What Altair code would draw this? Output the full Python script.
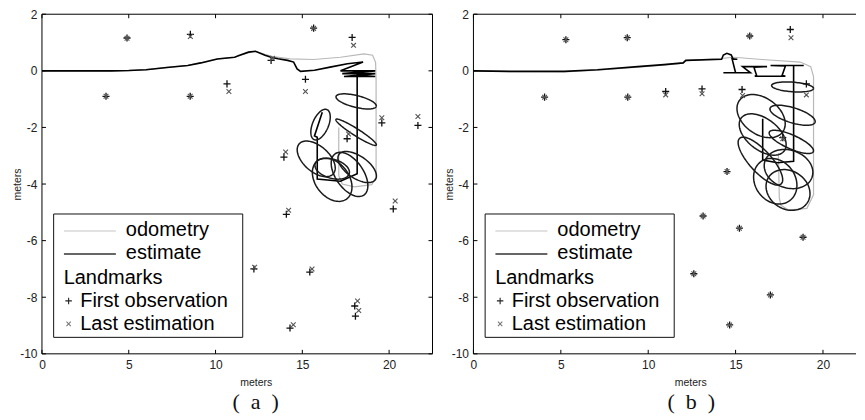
import altair as alt
import numpy as np
import pandas as pd

SANS = "Liberation Sans"
SERIF = "Liberation Serif"

x_ticks = [0, 5, 10, 15, 20]
y_ticks = [-10, -8, -6, -4, -2, 0, 2]
panel_labels = ["(\u2002a\u2002)", "(\u2002b\u2002)"]
legend_labels = ["odometry", "estimate", "Landmarks", "First observation", "Last estimation"]
axis_title = "meters"

# ---------------- panel (a) ----------------
est_a_x = [0, 2.0, 4.0, 5.0, 6.0, 7.2, 8.4, 9.15, 10.1, 11.1, 11.35, 11.9, 12.3, 12.85, 13.2, 13.6,
           14.15, 14.5, 14.7, 14.9, 15.7, 16.6, 17.6, 18.5, 17.2, 19.2, 17.3, 19.2, 17.4, 19.2,
           18.16, 18.16, 17.2, 15.86, 15.86, 15.7, 16.15]
est_a_y = [0, 0.0, 0.0, 0.01, 0.04, 0.12, 0.19, 0.28, 0.42, 0.48, 0.54, 0.66, 0.69, 0.55, 0.48, 0.43,
           0.37, 0.31, 0.07, -0.02, 0.02, 0.13, 0.25, 0.31, 0.0, 0.0, -0.1, -0.1, -0.2, -0.2,
           -0.15, -3.64, -3.9, -3.82, -2.35, -2.3, -1.46]
odo_a_x = [0, 2, 4, 5, 6, 7.2, 8.4, 9.15, 10.1, 11.1, 11.9, 12.3, 12.85, 13.3, 14.3, 15.65, 17.2,
           18.55, 19.05, 19.22, 19.25, 19.25, 19.0, 18.0, 17.3, 17.1, 17.1]
odo_a_y = [0, 0, 0, 0.01, 0.04, 0.12, 0.19, 0.28, 0.42, 0.48, 0.64, 0.69, 0.58, 0.5, 0.42, 0.40, 0.48,
           0.60, 0.55, 0.3, -0.3, -3.75, -4.02, -4.1, -4.0, -3.7, -2.0]
first_a_x = [4.9, 8.55, 15.65, 17.87, 3.69, 8.54, 10.66, 15.18, 19.58, 21.66, 17.58, 13.94, 20.24,
             14.08, 12.21, 15.43, 18.02, 18.06, 14.29, 13.2]
first_a_y = [1.16, 1.29, 1.51, 1.18, -0.9, -0.9, -0.46, -0.30, -1.84, -1.93, -2.4, -3.05, -4.88,
             -5.07, -7.0, -7.11, -8.31, -8.67, -9.09, 0.37]
last_a_x = [4.9, 8.55, 15.65, 17.95, 3.69, 8.54, 10.77, 15.18, 19.58, 21.66, 17.66, 14.04, 20.35,
            14.21, 12.25, 15.56, 18.18, 18.25, 14.48, 13.28]
last_a_y = [1.15, 1.21, 1.5, 0.9, -0.9, -0.9, -0.73, -0.73, -1.66, -1.61, -2.23, -2.87, -4.6,
            -4.93, -6.94, -7.0, -8.13, -8.47, -8.97, 0.44]
# ellipses: centre, semi-axis vector u, conjugate semi-axis vector v (metres)
ell_a_cx = [18.1, 16.05, 18.1, 15.8, 17.72, 18.16, 16.72, 16.72]
ell_a_cy = [-1.08, -1.9, -2.17, -3.11, -3.66, -3.4, -3.85, -3.46]
ell_a_ux = [1.16, 0.37, 1.15, 0.98, 0.8, 0.98, 0.75, 0.98]
ell_a_uy = [-0.165, 0.53, -0.41, -0.53, -0.74, -0.49, -0.71, -0.18]
ell_a_vx = [0.03, 0.42, -0.2, 0.49, 0.69, 0.52, 0.86, 0.17]
ell_a_vy = [0.21, -0.11, 0.22, 0.34, 0.25, 0.25, 0.28, 0.32]

# ---------------- panel (b) ----------------
est_b_x = [0, 2.1, 5.2, 7.1, 9.4, 10.9, 12.0, 12.15, 14.2, 14.3, 14.5, 14.75, 14.85, 15.1, 14.8, 15.0,
           14.3, 15.85, 15.4, 16.8, 16.05, 16.2, 16.1, 17.85, 17.66, 17.85, 17.0, 18.9, 18.32, 18.32,
           17.4, 16.55, 16.55]
est_b_y = [0, -0.02, -0.02, 0.04, 0.15, 0.22, 0.28, 0.37, 0.41, 0.56, 0.62, 0.56, 0.42, 0.41, 0.42, -0.07,
           -0.07, -0.07, 0.15, 0.15, 0.13, -0.16, -0.19, -0.19, -0.16, 0.17, 0.19, 0.19, 0.19, -3.2,
           -3.25, -3.15, -1.69]
odo_b_x = [0, 2.1, 5.2, 7.1, 9.4, 10.9, 12.0, 12.15, 14.2, 14.9, 16.5, 18.7, 19.3, 19.46, 19.46, 19.08,
           18.03, 17.6, 17.5, 17.45]
odo_b_y = [0, -0.03, -0.04, 0.02, 0.13, 0.2, 0.27, 0.36, 0.44, 0.48, 0.40, 0.31, 0.15, -0.2, -4.38, -4.86,
           -4.92, -4.75, -4.5, -2.9]
first_b_x = [5.29, 8.8, 15.81, 18.13, 4.07, 8.83, 11.0, 13.08, 15.37, 19.05, 22.29, 17.7, 14.51, 13.14,
             15.22, 18.86, 12.61, 16.99, 14.66]
first_b_y = [1.10, 1.17, 1.23, 1.46, -0.93, -0.93, -0.73, -0.64, -0.66, -0.46, -0.61, -2.36, -3.56,
             -5.13, -5.56, -5.88, -7.17, -7.92, -8.98]
last_b_x = [5.29, 8.8, 15.81, 18.17, 4.07, 8.83, 11.0, 13.08, 15.4, 19.05, 22.29, 17.7, 14.51, 13.14,
            15.22, 18.86, 12.61, 16.99, 14.66]
last_b_y = [1.10, 1.17, 1.23, 1.17, -0.93, -0.93, -0.85, -0.81, -0.87, -0.85, -0.61, -2.4, -3.56,
            -5.13, -5.56, -5.88, -7.17, -7.92, -8.98]
ell_b_cx = [18.26, 18.26, 18.19, 16.46, 16.55, 16.42, 17.27, 18.03, 18.0]
ell_b_cy = [-0.57, -1.57, -2.51, -1.6, -2.25, -3.19, -3.9, -3.47, -4.21]
ell_b_ux = [1.2, 1.29, 1.26, 1.37, 1.31, 1.14, 0.69, 1.14, 0.8]
ell_b_uy = [-0.05, -0.24, -0.28, -0.18, -0.21, -0.35, -0.74, -0.49, -0.63]
ell_b_vx = [0.0, 0.1, -0.15, -0.17, -0.29, -0.57, 1.03, 0.8, 0.97]
ell_b_vy = [0.17, 0.26, 0.3, 0.74, 0.7, 0.77, 0.32, 0.49, 0.35]

PLUS = "M-1,0L1,0M0,-1L0,1"
CROSS = "M-0.75,-0.75L0.75,0.75M-0.75,0.75L0.75,-0.75"
H = 340
ONE = pd.DataFrame({"k": [0]})


def path_df(xs, ys):
    return pd.DataFrame({"x": xs, "y": ys, "i": list(range(len(xs)))})


def ell_df(cx, cy, ux, uy, vx, vy, n=90):
    t = np.linspace(0, 2 * np.pi, n + 1)
    frames = []
    for k in range(len(cx)):
        frames.append(pd.DataFrame({
            "eid": k, "i": np.arange(n + 1),
            "x": cx[k] + ux[k] * np.cos(t) + vx[k] * np.sin(t),
            "y": cy[k] + uy[k] * np.cos(t) + vy[k] * np.sin(t)}))
    return pd.concat(frames, ignore_index=True)


def panel(est, odo, first, last, ell, xmax, W, title_x, title_dx, label, right_border):
    xs = alt.Scale(domain=[0, xmax], nice=False, zero=False)
    ys = alt.Scale(domain=[-10, 2], nice=False, zero=False)
    xaxis = alt.Axis(values=x_ticks, ticks=False, domain=False, grid=False,
                     labelFont=SANS, labelFontSize=12, labelColor="#222", labelPadding=6,
                     labelExpr="'' + datum.value", labelFlush=False,
                     title=axis_title, titleFont=SANS, titleFontSize=10.5, titleFontWeight="normal",
                     titleColor="#222", titleX=title_x, titleY=29, titleBaseline="middle",
                     titleAlign="center")
    yaxis = alt.Axis(values=y_ticks, ticks=False, domain=False, grid=False,
                     labelFont=SANS, labelFontSize=12, labelColor="#222", labelPadding=5,
                     labelExpr="'' + datum.value",
                     title=axis_title, titleFont=SANS, titleFontSize=10.5, titleFontWeight="normal",
                     titleColor="#222", titleX=-24, titleY=H / 2, titleBaseline="middle",
                     titleAlign="center", titleAngle=-90)
    X = alt.X("x:Q", scale=xs, axis=xaxis)
    Y = alt.Y("y:Q", scale=ys, axis=yaxis)
    xt = pd.DataFrame({"x": x_ticks})
    yt = pd.DataFrame({"y": y_ticks})
    layers = []
    # inward ticks
    layers.append(alt.Chart(xt).mark_rule(color="#000").encode(x=X, y=alt.value(0), y2=alt.value(4)))
    layers.append(alt.Chart(xt).mark_rule(color="#000").encode(x=X, y=alt.value(H - 4), y2=alt.value(H)))
    layers.append(alt.Chart(yt).mark_rule(color="#000").encode(y=Y, x=alt.value(0), x2=alt.value(4)))
    if right_border:
        layers.append(alt.Chart(yt).mark_rule(color="#000").encode(y=Y, x=alt.value(W - 4), x2=alt.value(W)))
    # trajectories
    layers.append(alt.Chart(odo).mark_line(color="#b8b8b8", strokeWidth=1.2, clip=True)
                  .encode(x=X, y=Y, order="i:Q"))
    layers.append(alt.Chart(est).mark_line(color="#000", strokeWidth=1.6, clip=True)
                  .encode(x=X, y=Y, order="i:Q"))
    layers.append(alt.Chart(ell).mark_line(color="#1a1a1a", strokeWidth=1.5, clip=True)
                  .encode(x=X, y=Y, detail="eid:N", order="i:Q"))
    # landmarks
    layers.append(alt.Chart(first).mark_point(shape=PLUS, filled=False, color="#111", size=50,
                                              strokeWidth=1.3, opacity=1, clip=True).encode(x=X, y=Y))
    layers.append(alt.Chart(last).mark_point(shape=CROSS, filled=False, color="#555", size=40,
                                             strokeWidth=1.1, opacity=1, clip=True).encode(x=X, y=Y))
    # legend box
    layers.append(alt.Chart(ONE).mark_rect(fill="white", stroke="#111", strokeWidth=1)
                  .encode(x=alt.value(11.7), x2=alt.value(201), y=alt.value(200), y2=alt.value(323.5)))
    layers.append(alt.Chart(ONE).mark_rule(color="#c4c4c4", strokeWidth=1.2)
                  .encode(x=alt.value(22), x2=alt.value(74), y=alt.value(217)))
    layers.append(alt.Chart(ONE).mark_rule(color="#333", strokeWidth=1.6)
                  .encode(x=alt.value(22), x2=alt.value(74), y=alt.value(240)))
    tx = dict(font=SANS, fontSize=20, align="left", baseline="middle", color="#000")
    layers.append(alt.Chart(ONE).mark_text(text=legend_labels[0], **tx).encode(x=alt.value(84), y=alt.value(216)))
    layers.append(alt.Chart(ONE).mark_text(text=legend_labels[1], **tx).encode(x=alt.value(84), y=alt.value(239)))
    layers.append(alt.Chart(ONE).mark_text(text=legend_labels[2], **tx).encode(x=alt.value(21.7), y=alt.value(264)))
    layers.append(alt.Chart(ONE).mark_text(text=legend_labels[3], **tx).encode(x=alt.value(38.3), y=alt.value(287)))
    layers.append(alt.Chart(ONE).mark_text(text=legend_labels[4], **tx).encode(x=alt.value(38.3), y=alt.value(310)))
    layers.append(alt.Chart(ONE).mark_point(shape=PLUS, filled=False, color="#222", size=42,
                                            strokeWidth=1.1, opacity=1)
                  .encode(x=alt.value(26.7), y=alt.value(287)))
    layers.append(alt.Chart(ONE).mark_point(shape=CROSS, filled=False, color="#777", size=34,
                                            strokeWidth=1.1, opacity=1)
                  .encode(x=alt.value(26.7), y=alt.value(310)))
    # frame
    layers.append(alt.Chart(ONE).mark_rule(color="#000").encode(x=alt.value(0), x2=alt.value(W), y=alt.value(0)))
    layers.append(alt.Chart(ONE).mark_rule(color="#000").encode(x=alt.value(0), x2=alt.value(W), y=alt.value(H)))
    layers.append(alt.Chart(ONE).mark_rule(color="#000").encode(x=alt.value(0), y=alt.value(0), y2=alt.value(H)))
    if right_border:
        layers.append(alt.Chart(ONE).mark_rule(color="#000").encode(x=alt.value(W), y=alt.value(0), y2=alt.value(H)))
    return alt.layer(*layers).properties(
        width=W, height=H,
        title=alt.TitleParams(label, orient="bottom", anchor="middle", font=SERIF, fontSize=22,
                              fontWeight="normal", color="#111", dx=title_dx, offset=4))


pa = panel(path_df(est_a_x, est_a_y), path_df(odo_a_x, odo_a_y),
           path_df(first_a_x, first_a_y), path_df(last_a_x, last_a_y),
           ell_df(ell_a_cx, ell_a_cy, ell_a_ux, ell_a_uy, ell_a_vx, ell_a_vy),
           22.5, 391, 214, 18.5, panel_labels[0], True)
pb = panel(path_df(est_b_x, est_b_y), path_df(odo_b_x, odo_b_y),
           path_df(first_b_x, first_b_y), path_df(last_b_x, last_b_y),
           ell_df(ell_b_cx, ell_b_cy, ell_b_ux, ell_b_uy, ell_b_vx, ell_b_vy),
           21.89, 383, 217, 26.5, panel_labels[1], False)

chart = alt.hconcat(pa, pb, spacing=11).properties(
    padding={"left": 5, "top": 0, "right": 0, "bottom": 0}
).configure_view(stroke=None)

chart.save("out.html", embed_options={"renderer": "svg", "actions": False})
